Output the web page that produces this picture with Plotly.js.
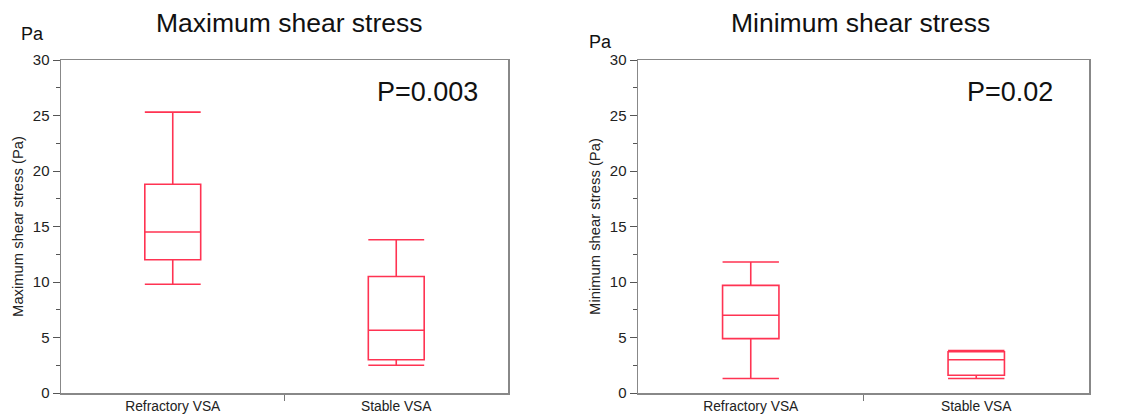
<!DOCTYPE html>
<html><head><meta charset="utf-8">
<script src="https://cdn.plot.ly/plotly-3.0.1.min.js"></script>
<style>html,body{margin:0;padding:0;background:#fff}</style>
</head><body><div id="chart" style="width:1146px;height:415px"></div>
<script>
const categories = ["Refractory VSA", "Stable VSA"];
const catPos = [0, 1];
// Maximum shear stress (Pa)
const maxLower = [9.8, 2.5];
const maxQ1 = [12.0, 3.0];
const maxMedian = [14.5, 5.65];
const maxQ3 = [18.8, 10.5];
const maxUpper = [25.3, 13.8];
// Minimum shear stress (Pa)
const minLower = [1.3, 1.3];
const minQ1 = [4.9, 1.6];
const minMedian = [7.0, 3.0];
const minQ3 = [9.7, 3.72];
const minUpper = [11.8, 3.82];
const yTicks = [0, 5, 10, 15, 20, 25, 30];

const RED = '#ff3352';
const FONT = 'Liberation Sans, Arial, Helvetica, sans-serif';

function boxTrace(xa, ya, lo, q1, med, q3, hi) {
  return {
    type: 'box', xaxis: xa, yaxis: ya, x: catPos,
    lowerfence: lo, q1: q1, median: med, q3: q3, upperfence: hi,
    width: 0.25, whiskerwidth: 1, boxpoints: false,
    line: {color: RED, width: 1.6}, fillcolor: 'rgba(0,0,0,0)',
    showlegend: false, hoverinfo: 'skip'
  };
}

const data = [
  boxTrace('x', 'y', maxLower, maxQ1, maxMedian, maxQ3, maxUpper),
  boxTrace('x2', 'y2', minLower, minQ1, minMedian, minQ3, minUpper)
];

function xAxis(domain, anchor) {
  return {
    domain: domain, anchor: anchor, range: [-0.5, 1.5],
    tickmode: 'array', tickvals: catPos, ticktext: categories,
    ticks: 'outside', ticklen: 0, tickcolor: '#777',
    minor: {tickmode: 'array', tickvals: [0.5], ticks: 'outside', ticklen: 6, tickcolor: '#777', tickwidth: 1},
    tickfont: {family: FONT, size: 13.8, color: '#222'},
    showline: true, mirror: true, linecolor: '#888', linewidth: 1.5,
    showgrid: false, zeroline: false, fixedrange: true
  };
}
function yAxis(domain, anchor, title) {
  return {
    domain: domain, anchor: anchor, range: [0, 30],
    tickmode: 'array', tickvals: yTicks,
    ticks: 'outside', ticklen: 7, tickcolor: '#555', tickwidth: 1,
    minor: {dtick: 2.5, ticks: 'outside', ticklen: 4, tickcolor: '#555', tickwidth: 1},
    tickfont: {family: FONT, size: 15, color: '#222'},
    title: {text: title, font: {family: FONT, size: 14.8, color: '#222'}, standoff: 5},
    showline: true, mirror: true, linecolor: '#888', linewidth: 1.5,
    showgrid: false, zeroline: false, fixedrange: true
  };
}

const W = 1146, H = 415;
const layout = {
  width: W, height: H,
  margin: {l: 0, r: 0, t: 0, b: 0},
  paper_bgcolor: '#fff', plot_bgcolor: '#fff',
  xaxis: xAxis([61 / W, 508 / W], 'y'),
  yaxis: yAxis([22 / H, 355 / H], 'x', 'Maximum shear stress (Pa)'),
  xaxis2: xAxis([638 / W, 1089 / W], 'y2'),
  yaxis2: yAxis([22 / H, 355 / H], 'x2', 'Minimum shear stress (Pa)'),
  annotations: [
    {text: 'Maximum shear stress', xref: 'paper', yref: 'paper', x: 289 / W, y: 1 - 23 / H,
     xanchor: 'center', yanchor: 'middle', showarrow: false, font: {family: FONT, size: 26.5, color: '#111'}},
    {text: 'Minimum shear stress', xref: 'paper', yref: 'paper', x: 860 / W, y: 1 - 23 / H,
     xanchor: 'center', yanchor: 'middle', showarrow: false, font: {family: FONT, size: 26.5, color: '#111'}},
    {text: 'Pa', xref: 'paper', yref: 'paper', x: 32 / W, y: 1 - 34 / H,
     xanchor: 'center', yanchor: 'middle', showarrow: false, font: {family: FONT, size: 18, color: '#111'}},
    {text: 'Pa', xref: 'paper', yref: 'paper', x: 600 / W, y: 1 - 42 / H,
     xanchor: 'center', yanchor: 'middle', showarrow: false, font: {family: FONT, size: 18, color: '#111'}},
    {text: 'P=0.003', xref: 'paper', yref: 'paper', x: 427 / W, y: 1 - 92 / H,
     xanchor: 'center', yanchor: 'middle', showarrow: false, font: {family: FONT, size: 27, color: '#111'}},
    {text: 'P=0.02', xref: 'paper', yref: 'paper', x: 1010 / W, y: 1 - 92 / H,
     xanchor: 'center', yanchor: 'middle', showarrow: false, font: {family: FONT, size: 27, color: '#111'}}
  ]
};

Plotly.newPlot('chart', data, layout, {displayModeBar: false, staticPlot: true});
</script>
</body></html>
